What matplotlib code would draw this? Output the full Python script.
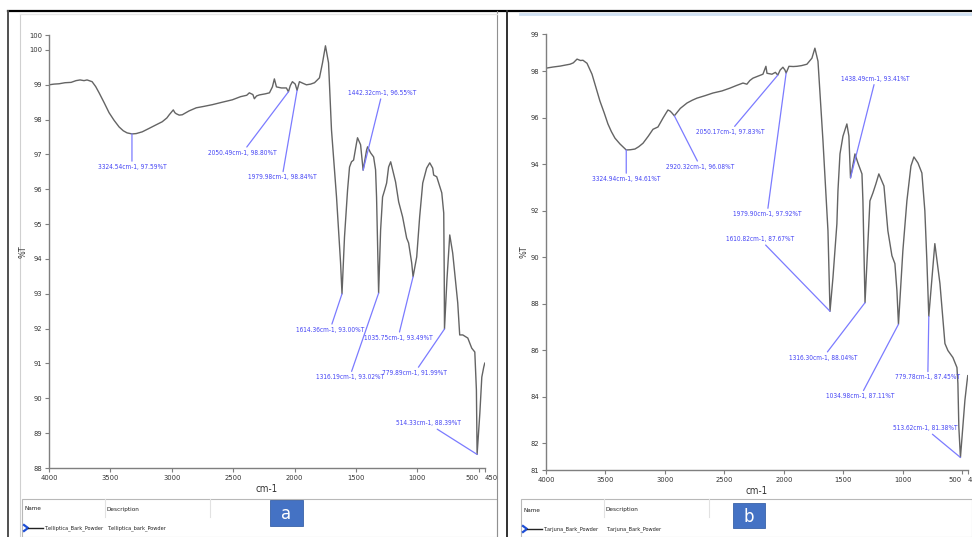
import matplotlib
matplotlib.use('Agg')
import matplotlib.pyplot as plt
from matplotlib.patches import Rectangle

W, H = 972, 537
plt.rcParams['font.family'] = ['DejaVu Sans']
plt.rcParams['font.stretch'] = 'condensed'

# espectro a: T. elliptica (cm-1, %T)
elliptica_cm = [4000, 3960, 3918, 3870, 3820, 3780, 3747, 3715, 3690, 3649, 3620, 3592, 3550, 3511,
                3470, 3429, 3395, 3364, 3324.54, 3290, 3241, 3190, 3140, 3078, 3040, 3021, 2988,
                2975, 2964, 2940, 2915, 2860, 2801, 2740, 2670, 2590, 2507, 2440, 2390, 2369, 2340,
                2328, 2310, 2287, 2240, 2205, 2181, 2165, 2148, 2108, 2067, 2050.49, 2035, 2018,
                1995, 1979.98, 1961, 1930, 1904, 1870, 1838, 1798, 1773, 1749, 1724, 1700, 1659,
                1626, 1614.36, 1594, 1569, 1553, 1537, 1520, 1496, 1488, 1463, 1442.32, 1414, 1406,
                1382, 1357, 1341, 1333, 1322, 1316.19, 1300, 1284, 1267, 1251, 1235, 1218, 1202,
                1178, 1153, 1121, 1088, 1072, 1047, 1035.75, 1006, 982, 957, 925, 900, 876, 868,
                843, 802, 786, 782, 779.89, 760, 737, 713, 672, 656, 631, 590, 558, 533, 520,
                514.33, 492, 476, 460, 452]
elliptica_t = [99.00, 99.02, 99.03, 99.06, 99.07, 99.12, 99.14, 99.12, 99.14, 99.09, 98.95, 98.77,
               98.48, 98.20, 97.98, 97.79, 97.68, 97.62, 97.59, 97.60, 97.65, 97.74, 97.83, 97.94,
               98.05, 98.14, 98.28, 98.20, 98.17, 98.13, 98.14, 98.25, 98.34, 98.38, 98.43, 98.50,
               98.57, 98.66, 98.70, 98.77, 98.72, 98.60, 98.68, 98.71, 98.74, 98.77, 98.94, 99.17,
               98.94, 98.91, 98.91, 98.80, 98.98, 99.09, 99.02, 98.84, 99.09, 99.04, 99.00, 99.02,
               99.06, 99.20, 99.63, 100.12, 99.63, 97.71, 95.78, 93.89, 93.00, 94.63, 95.98, 96.64,
               96.79, 96.84, 97.33, 97.48, 97.28, 96.55, 97.13, 97.22, 97.05, 96.93, 96.56, 95.78,
               94.00, 93.02, 94.83, 95.78, 95.98, 96.18, 96.64, 96.79, 96.56, 96.21, 95.64, 95.21,
               94.60, 94.46, 93.89, 93.49, 94.06, 95.21, 96.18, 96.61, 96.76, 96.61, 96.41, 96.36,
               95.90, 95.32, 93.60, 91.99, 93.40, 94.69, 94.17, 92.74, 91.82, 91.82, 91.73, 91.44,
               91.33, 90.24, 88.39, 89.57, 90.61, 90.90, 91.01]
elliptica_pico_cm = [3324.54, 2050.49, 1979.98, 1442.32, 1614.36, 1316.19, 1035.75, 779.89, 514.33]
elliptica_pico_t = [97.59, 98.80, 98.84, 96.55, 93.00, 93.02, 93.49, 91.99, 88.39]

# espectro b: T. arjuna (cm-1, %T)
arjuna_cm = [4000, 3940, 3880, 3840, 3798, 3770, 3739, 3710, 3689, 3655, 3613, 3580, 3546, 3510,
             3479, 3450, 3420, 3378, 3324.94, 3290, 3252, 3220, 3184, 3140, 3100, 3058, 3016, 2990,
             2974, 2955, 2940, 2920.32, 2870, 2814, 2770, 2730, 2660, 2596, 2520, 2453, 2400, 2343,
             2310, 2285, 2259, 2220, 2175, 2150, 2141, 2099, 2070, 2050.17, 2030, 2007, 1990,
             1979.90, 1956, 1920, 1889, 1850, 1805, 1763, 1738, 1712, 1670, 1628, 1610.82, 1586,
             1553, 1544, 1527, 1502, 1469, 1452, 1438.49, 1401, 1376, 1342, 1334, 1316.30, 1275,
             1250, 1225, 1200, 1157, 1124, 1090, 1065, 1048, 1034.98, 998, 964, 930, 905, 871, 838,
             813, 796, 779.78, 729, 686, 644, 619, 577, 543, 535, 527, 513.62, 476, 459, 452]
arjuna_t = [98.13, 98.18, 98.22, 98.26, 98.30, 98.36, 98.52, 98.46, 98.47, 98.34, 97.87, 97.30,
            96.71, 96.20, 95.73, 95.40, 95.12, 94.87, 94.61, 94.62, 94.65, 94.75, 94.90, 95.20,
            95.50, 95.60, 95.98, 96.20, 96.33, 96.28, 96.20, 96.08, 96.40, 96.63, 96.75, 96.84,
            96.95, 97.06, 97.15, 97.27, 97.38, 97.49, 97.44, 97.60, 97.70, 97.78, 97.87, 98.21,
            97.91, 97.87, 97.95, 97.83, 98.05, 98.17, 98.05, 97.92, 98.21, 98.20, 98.21, 98.24,
            98.30, 98.56, 98.99, 98.43, 95.00, 91.13, 87.67, 89.12, 91.43, 92.85, 94.44, 95.20,
            95.73, 95.21, 93.41, 94.44, 94.05, 93.58, 92.42, 88.04, 92.42, 92.76, 93.15, 93.58,
            93.06, 91.13, 90.06, 89.72, 88.56, 87.11, 90.27, 92.42, 93.92, 94.31, 94.05, 93.62,
            91.99, 89.85, 87.45, 90.58, 88.86, 86.28, 85.98, 85.68, 85.25, 84.57, 82.68, 81.38,
            83.84, 84.61, 84.90]
arjuna_pico_cm = [3324.94, 2920.32, 2050.17, 1979.90, 1610.82, 1438.49, 1316.30, 1034.98, 779.78, 513.62]
arjuna_pico_t = [94.61, 96.08, 97.83, 97.92, 87.67, 93.41, 88.04, 87.11, 87.45, 81.38]

x_ticks = [4000, 3500, 3000, 2500, 2000, 1500, 1000, 500]
elliptica_y_ticks = [89, 90, 91, 92, 93, 94, 95, 96, 97, 98, 99, 100]
arjuna_y_ticks = [82, 84, 86, 88, 90, 92, 94, 96, 98]

# desplazamiento de las etiquetas respecto al pico (pixeles)
elliptica_offsets = [(0, -33), (-46, -61), (-15, -87), (19, 77), (-12, -36), (-29, -84),
                     (-15, -61), (-30, -44), (-49, 31)]
arjuna_offsets = [(0, -29), (26, -51), (-48, -57), (-19, -141), (-70, 72), (25, 99),
                  (-42, -55), (-38, -72), (-1, -61), (-35, 29)]

GRIS = '#7f7f7f'
AZUL_TXT = '#4646f5'
AZUL_LIN = '#7b7bff'


def px_axes(fig, x0, y0, x1, y1, **kw):
    return fig.add_axes([x0 / W, 1 - y1 / H, (x1 - x0) / W, (y1 - y0) / H], **kw)


def dibujar_espectro(ax, cm, t, picos_cm, picos_t, offsets, ylim, yticks, etiqueta_top, etiqueta_bot):
    ax.plot(cm, t, color='#646464', linewidth=1.0)
    ax.set_xlim(4000, 450)
    ax.set_ylim(*ylim)
    for w, tt, (dx, dy) in zip(picos_cm, picos_t, offsets):
        ax.annotate(f'{w:.2f}cm-1, {tt:.2f}%T', xy=(w, tt), xytext=(dx, dy),
                    textcoords='offset pixels', ha='center', va='center',
                    fontsize=4.7, color=AZUL_TXT,
                    arrowprops=dict(arrowstyle='-', color=AZUL_LIN, lw=0.9,
                                    shrinkA=0, shrinkB=0))
    for lado in ['top', 'right']:
        ax.spines[lado].set_visible(False)
    for lado in ['left', 'bottom']:
        ax.spines[lado].set_color(GRIS)
        ax.spines[lado].set_linewidth(1.0)
    ax.set_xticks(x_ticks + [450])
    ax.set_xticklabels([str(v) for v in x_ticks] + ['450'])
    ax.get_xticklabels()[-1].set_horizontalalignment('left')
    ax.get_xticklabels()[-2].set_horizontalalignment('right')
    yt = [ylim[0]] + yticks + [ylim[1]]
    yl = [etiqueta_bot] + [str(v) for v in yticks] + [etiqueta_top]
    ax.set_yticks(yt)
    ax.set_yticklabels(yl)
    ax.tick_params(axis='both', direction='out', length=3, width=0.8, color=GRIS,
                   labelsize=5.4, labelcolor='#333333', pad=2)
    ax.set_xlabel('cm-1', fontsize=7, color='#333333', labelpad=2)
    ax.set_ylabel('%T', fontsize=6.5, color='#333333', labelpad=1)
    ax.patch.set_alpha(0)


fig = plt.figure(figsize=(W / 100, H / 100), dpi=100)

# marco de las ventanas (coordenadas en pixeles)
fondo = fig.add_axes([0, 0, 1, 1])
fondo.set_xlim(0, W)
fondo.set_ylim(H, 0)
fondo.axis('off')
fondo.plot([8, W], [11, 11], color='black', lw=1.6)
fondo.plot([8, 8], [11, H], color='#505050', lw=1.4)
fondo.plot([20, 20], [14, 537], color='#d0d0d0', lw=0.8)
fondo.plot([497, 497], [11, H], color='#909090', lw=0.8)
fondo.plot([507, 507], [11, H], color='#303030', lw=1.4)
fondo.plot([520, W], [14, 14], color='#cfe0f2', lw=2.0)
fondo.plot([20, 497], [14, 14], color='#e6e6e6', lw=1.0)

for (x0, x1, ytop, yname, yrow, muestra, caja, letra) in [
        (22, 497, 499, 509, 528, 'T.elliptica_Bark_Powder', (270, 500, 33, 26), 'a'),
        (521, W, 499, 510, 529, 'T.arjuna_Bark_Powder', (733, 503, 32, 25), 'b')]:
    fondo.add_patch(Rectangle((x0, ytop), x1 - x0, H - ytop, facecolor='white',
                              edgecolor='#b8b8b8', lw=0.8))
    fondo.plot([x0 + 83, x0 + 83], [ytop, ytop + 18], color='#e2e2e2', lw=0.8)
    fondo.plot([x0 + 188, x0 + 188], [ytop, ytop + 18], color='#e2e2e2', lw=0.8)
    fondo.text(x0 + 2, yname, 'Name', fontsize=4.6, color='#222222', va='center')
    fondo.text(x0 + 84, yname, 'Description', fontsize=4.6, color='#222222', va='center')
    fondo.plot([x0 + 2, x0 + 6, x0 + 2], [yrow - 3, yrow, yrow + 3], color='#1f4fd6', lw=1.6)
    fondo.plot([x0 + 6, x0 + 21], [yrow, yrow], color='#222222', lw=1.0)
    fondo.text(x0 + 22, yrow, muestra, fontsize=4.1, color='#222222', va='center')
    descripcion = muestra.replace('Bark', 'bark') if letra == 'a' else muestra
    fondo.text(x0 + 85, yrow, descripcion, fontsize=4.1, color='#222222', va='center')
    cx, cy, cw, ch = caja
    fondo.add_patch(Rectangle((cx, cy), cw, ch, facecolor='#4472c4', edgecolor='#3a62a8', lw=0.6))
    fondo.text(cx + cw / 2, cy + ch / 2 + 1, letra, fontsize=12, color='white',
               ha='center', va='center', stretch='normal')

ax_a = px_axes(fig, 49, 35, 485, 468)
dibujar_espectro(ax_a, elliptica_cm, elliptica_t, elliptica_pico_cm, elliptica_pico_t,
                 elliptica_offsets, (88, 100.43), elliptica_y_ticks, '100', '88')

ax_b = px_axes(fig, 546, 34, 968, 470)
dibujar_espectro(ax_b, arjuna_cm, arjuna_t, arjuna_pico_cm, arjuna_pico_t,
                 arjuna_offsets, (80.84, 99.6), arjuna_y_ticks, '99', '81')

fig.savefig('out.png', dpi=100)
